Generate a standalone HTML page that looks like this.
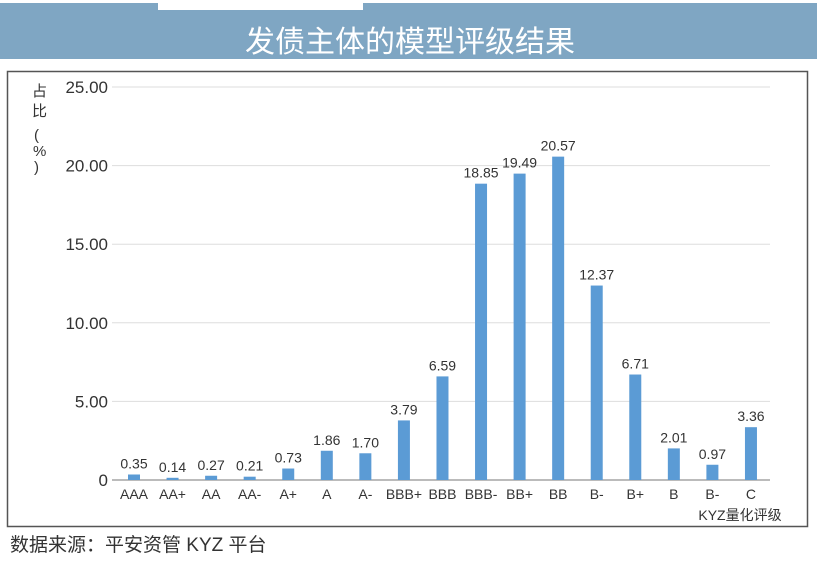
<!DOCTYPE html>
<html><head><meta charset="utf-8"><style>
body{margin:0;width:817px;height:564px;background:#fff;overflow:hidden;font-family:"Liberation Sans","Noto Sans CJK SC",sans-serif}
</style></head><body>
<svg width="817" height="564" xmlns="http://www.w3.org/2000/svg">
<rect x="0" y="3" width="817" height="56" fill="#7fa6c3"/>
<rect x="158" y="0" width="205" height="10" fill="#fff"/>
<text x="410" y="52" text-anchor="middle" font-size="30" fill="#fff" font-family="'Noto Sans CJK SC',sans-serif">发债主体的模型评级结果</text>
<rect x="7.5" y="71.5" width="800" height="455" fill="#fff" stroke="#555" stroke-width="1.5"/>
<text x="10" y="551" font-size="19" fill="#333">数据来源：平安资管 KYZ 平台</text>
<text x="30" y="96" font-size="15" fill="#333">
<tspan x="32" y="96">占</tspan><tspan x="32" y="116">比</tspan><tspan x="34" y="140">(</tspan><tspan x="33" y="156">%</tspan><tspan x="34" y="172">)</tspan></text>
<text x="740" y="520" font-size="14" fill="#333" text-anchor="middle">KYZ量化评级</text>
<g id="g"></g>
</svg>
<script>
const categories=["AAA","AA+","AA","AA-","A+","A","A-","BBB+","BBB","BBB-","BB+","BB","B-","B+","B","B-","C"];
const values=[0.35,0.14,0.27,0.21,0.73,1.86,1.70,3.79,6.59,18.85,19.49,20.57,12.37,6.71,2.01,0.97,3.36];
const labels=["0.35","0.14","0.27","0.21","0.73","1.86","1.70","3.79","6.59","18.85","19.49","20.57","12.37","6.71","2.01","0.97","3.36"];
const yTicks=[0,5,10,15,20,25];
const yTickLabels=["0","5.00","10.00","15.00","20.00","25.00"];
const NS="http://www.w3.org/2000/svg",g=document.getElementById('g');
const y=v=>480-v*15.72, x=i=>134+i*38.56;
function mk(t,a,txt){const e=document.createElementNS(NS,t);for(const k in a)e.setAttribute(k,a[k]);if(txt!=null)e.textContent=txt;g.appendChild(e);return e;}
yTicks.forEach((t,i)=>{
 const l=mk('line',{x1:112,x2:770,y1:y(t),y2:y(t),stroke:t?'#ddd':'#bbb','stroke-width':t?1:2});
 
 
 const tx=mk('text',{x:108,y:y(t)+6,'text-anchor':'end','font-size':17,fill:'#333'},yTickLabels[i]);
 
 
});
categories.forEach((c,i)=>{
 const b=mk('rect',{x:x(i)-6,y:y(values[i]),width:12,height:480-y(values[i]),fill:'#5b9bd5'});
 
 
 const v=mk('text',{x:x(i),y:y(values[i])-6,'text-anchor':'middle','font-size':14,fill:'#333'},labels[i]);
 
 
 const t=mk('text',{x:x(i),y:499,'text-anchor':'middle','font-size':14,fill:'#333'},c);
 
 
});
</script>
</body></html>
